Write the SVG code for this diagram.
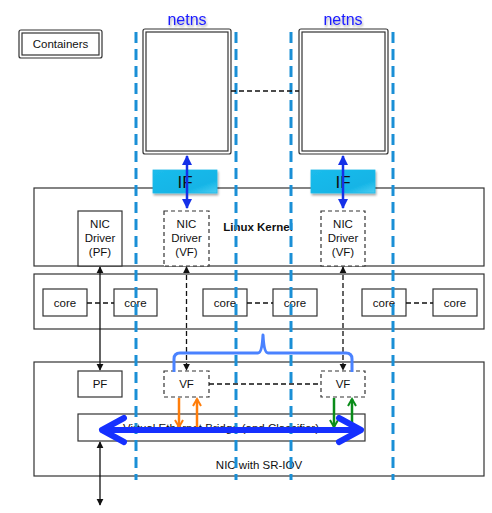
<svg xmlns="http://www.w3.org/2000/svg" width="492" height="513" viewBox="0 0 492 513">
<defs>
<style>
.box{fill:#fff;stroke:#333;stroke-width:1.2}
.dbox{fill:#fff;stroke:#333;stroke-width:1.2;stroke-dasharray:4 3}
.t{font-family:"Liberation Sans",Arial,sans-serif;font-size:11.5px;fill:#111;text-anchor:middle}
.blk{stroke:#111;stroke-width:1.3;fill:none}
.dsh{stroke:#111;stroke-width:1.3;fill:none;stroke-dasharray:5 3}
.vline{stroke:#1a8fd6;stroke-width:3;stroke-dasharray:11 6;fill:none}
.ifbox{fill:url(#ifg);stroke:#1fb8e8;stroke-width:0.8}
</style>
<linearGradient id="ifg" x1="0" y1="0" x2="1" y2="1">
<stop offset="0" stop-color="#1bbcec"/>
<stop offset="0.7" stop-color="#12b4e6"/>
<stop offset="1" stop-color="#4ccdf2"/>
</linearGradient>
<filter id="sh" x="-20%" y="-20%" width="140%" height="160%">
<feDropShadow dx="1" dy="2" stdDeviation="1.2" flood-color="#000" flood-opacity="0.35"/>
</filter>
<marker id="ab" viewBox="0 0 10 10" refX="9" refY="5" markerWidth="7" markerHeight="8" orient="auto-start-reverse" markerUnits="userSpaceOnUse">
<path d="M0,0 L10,5 L0,10 z" fill="#111"/>
</marker>
<marker id="abl" viewBox="0 0 10 10" refX="9" refY="5" markerWidth="10" markerHeight="10" orient="auto-start-reverse" markerUnits="userSpaceOnUse">
<path d="M0,0 L10,5 L0,10 z" fill="#1530e8"/>
</marker>
<marker id="ao" viewBox="0 0 10 10" refX="8" refY="5" markerWidth="10" markerHeight="10" orient="auto" markerUnits="userSpaceOnUse">
<path d="M1,1 L8,5 L1,9" fill="none" stroke="#ff7d0a" stroke-width="2"/>
</marker>
<marker id="ag" viewBox="0 0 10 10" refX="8" refY="5" markerWidth="10" markerHeight="10" orient="auto" markerUnits="userSpaceOnUse">
<path d="M1,1 L8,5 L1,9" fill="none" stroke="#0a8c1a" stroke-width="2"/>
</marker>
</defs>
<rect width="492" height="513" fill="#fff"/>

<!-- Containers legend -->
<g id="containers-legend">
<rect x="19" y="30" width="83" height="28" rx="2" class="box"/>
<rect x="22" y="33" width="77" height="22" class="box"/>
<text x="60.5" y="48" class="t">Containers</text>
</g>

<!-- netns boxes -->
<g id="netns1">
<rect x="143" y="29" width="88" height="125" rx="2" class="box"/>
<rect x="146" y="32" width="82" height="119" class="box"/>
<text x="187" y="25" font-family="Liberation Sans,Arial,sans-serif" font-size="16" fill="#1a1aff" text-anchor="middle" filter="url(#sh)">netns</text>
</g>
<g id="netns2">
<rect x="299" y="29" width="89" height="125" rx="2" class="box"/>
<rect x="302" y="32" width="83" height="119" class="box"/>
<text x="343" y="25" font-family="Liberation Sans,Arial,sans-serif" font-size="16" fill="#1a1aff" text-anchor="middle" filter="url(#sh)">netns</text>
</g>

<!-- Linux Kernel -->
<g id="linux-kernel">
<rect x="34" y="188" width="450" height="78" class="box"/>
<text x="258" y="231" class="t" font-weight="bold">Linux Kernel</text>
</g>
<g id="nic-driver-pf">
<rect x="78" y="211" width="44" height="55" class="box"/>
<text x="100" y="228" class="t">NIC</text>
<text x="100" y="242" class="t">Driver</text>
<text x="100" y="256" class="t">(PF)</text>
</g>
<g id="nic-driver-vf1">
<rect x="164" y="211" width="45" height="55" class="dbox"/>
<text x="186.5" y="228" class="t">NIC</text>
<text x="186.5" y="242" class="t">Driver</text>
<text x="186.5" y="256" class="t">(VF)</text>
</g>
<g id="nic-driver-vf2">
<rect x="321" y="211" width="44" height="55" class="dbox"/>
<text x="343" y="228" class="t">NIC</text>
<text x="343" y="242" class="t">Driver</text>
<text x="343" y="256" class="t">(VF)</text>
</g>

<!-- IF boxes -->
<g id="if1">
<rect x="153" y="170" width="64" height="23" class="ifbox" filter="url(#sh)"/>
<text x="185" y="188" font-family="Liberation Sans,Arial,sans-serif" font-size="17" fill="#111" text-anchor="middle">IF</text>
</g>
<g id="if2">
<rect x="311" y="170" width="64" height="23" class="ifbox" filter="url(#sh)"/>
<text x="343" y="188" font-family="Liberation Sans,Arial,sans-serif" font-size="17" fill="#111" text-anchor="middle">IF</text>
</g>

<!-- CPU cores -->
<g id="cpu">
<rect x="34" y="274" width="450" height="55" class="box"/>
</g>
<g id="core1"><rect x="43" y="289" width="44" height="27" class="box"/><text x="65" y="307" class="t">core</text></g>
<g id="core2"><rect x="114" y="289" width="43" height="27" class="box"/><text x="135.5" y="307" class="t">core</text></g>
<g id="core3"><rect x="203" y="289" width="44" height="27" class="box"/><text x="225" y="307" class="t">core</text></g>
<g id="core4"><rect x="273" y="289" width="44" height="27" class="box"/><text x="295" y="307" class="t">core</text></g>
<g id="core5"><rect x="362" y="289" width="44" height="27" class="box"/><text x="384" y="307" class="t">core</text></g>
<g id="core6"><rect x="433" y="289" width="44" height="27" class="box"/><text x="455" y="307" class="t">core</text></g>

<!-- NIC -->
<g id="nic">
<rect x="34" y="362" width="450" height="114" class="box"/>
<text x="259" y="469" class="t">NIC with SR-IOV</text>
</g>
<g id="pf"><rect x="78" y="371" width="44" height="26" class="box"/><text x="100" y="388" class="t">PF</text></g>
<g id="vf1"><rect x="164" y="371" width="45" height="26" class="dbox"/><text x="186.5" y="388" class="t">VF</text></g>
<g id="vf2"><rect x="321" y="371" width="44" height="26" class="dbox"/><text x="343" y="388" class="t">VF</text></g>
<g id="bridge">
<rect x="78" y="414" width="287" height="27" class="box"/>
<text x="221" y="432" class="t" font-size="10.5">Virtual Ethernet Bridge (and Classifier)</text>
</g>

<!-- blue dashed partition lines -->
<g id="partitions">
<line x1="136" y1="32" x2="136" y2="480" class="vline"/>
<line x1="236" y1="32" x2="236" y2="480" class="vline"/>
<line x1="291" y1="32" x2="291" y2="480" class="vline"/>
<line x1="393" y1="32" x2="393" y2="480" class="vline"/>
</g>

<!-- connectors -->
<g id="connectors">
<line x1="231" y1="91" x2="299" y2="91" class="dsh" stroke-width="1" stroke-dasharray="4 3"/>
<line x1="87" y1="303" x2="114" y2="303" class="dsh" stroke-width="1" stroke-dasharray="4 3"/>
<line x1="247" y1="303" x2="273" y2="303" class="dsh" stroke-width="1" stroke-dasharray="4 3"/>
<line x1="406" y1="303" x2="433" y2="303" class="dsh" stroke-width="1" stroke-dasharray="4 3"/>
<line x1="209" y1="384" x2="321" y2="384" class="dsh" stroke-width="1" stroke-dasharray="4 3"/>

<line x1="187" y1="156" x2="187" y2="208" stroke="#1530e8" stroke-width="2.5" marker-start="url(#abl)" marker-end="url(#abl)"/>
<line x1="343" y1="156" x2="343" y2="208" stroke="#1530e8" stroke-width="2.5" marker-start="url(#abl)" marker-end="url(#abl)"/>

<line x1="100" y1="267" x2="100" y2="370" class="blk" marker-start="url(#ab)" marker-end="url(#ab)"/>
<line x1="186.5" y1="267" x2="186.5" y2="370" class="dsh" marker-start="url(#ab)" marker-end="url(#ab)"/>
<line x1="343" y1="267" x2="343" y2="370" class="dsh" marker-start="url(#ab)" marker-end="url(#ab)"/>
<line x1="100" y1="442" x2="100" y2="505" class="blk" marker-start="url(#ab)" marker-end="url(#ab)"/>

<path d="M174,372 L174,359 Q174,353 180,353 L258,353 Q262,353 263,335 Q264,353 268,353 L346,353 Q352,353 352,359 L352,372" fill="none" stroke="#4a82ff" stroke-width="3" stroke-linejoin="round"/>

<line x1="179" y1="398" x2="179" y2="427" stroke="#ff7d0a" stroke-width="2.5" marker-end="url(#ao)"/>
<line x1="197" y1="427" x2="197" y2="399" stroke="#ff7d0a" stroke-width="2.5" marker-end="url(#ao)"/>
<line x1="334" y1="398" x2="334" y2="427" stroke="#0a8c1a" stroke-width="2.5" marker-end="url(#ag)"/>
<line x1="352" y1="427" x2="352" y2="399" stroke="#0a8c1a" stroke-width="2.5" marker-end="url(#ag)"/>

<g stroke="#1530ff" stroke-width="6" fill="none" stroke-linecap="round" stroke-linejoin="round">
<line x1="103" y1="430" x2="359" y2="430"/>
<polyline points="124,418 102,430 124,442"/>
<polyline points="339,418 361,430 339,442"/>
</g>
</g>
</svg>
